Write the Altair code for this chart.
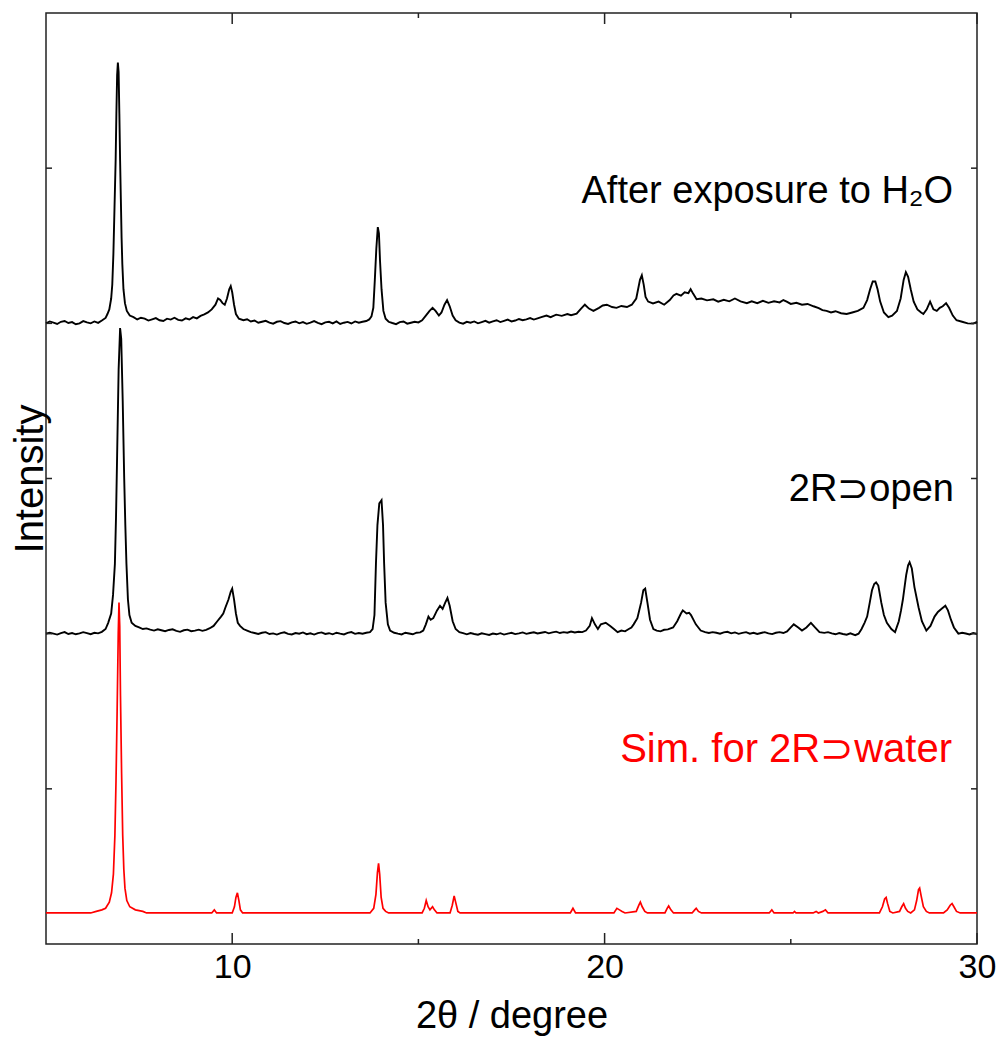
import altair as alt
import pandas as pd

FONT = "Liberation Sans"

# ---- data (2theta, intensity in offset axis units) ----
after_h2o = [
 (5.0,4.00),(5.1,4.012),(5.2,4.004),(5.3,3.996),(5.4,4.01),(5.5,4.015),(5.6,4.002),(5.7,4.008),(5.8,3.994),(5.9,4.0),
 (6.0,4.014),(6.1,4.006),(6.2,4.0),(6.3,4.012),(6.4,4.003),(6.5,4.018),(6.6,4.035),(6.65,4.06),(6.7,4.09),(6.75,4.16),
 (6.78,4.25),(6.81,4.45),(6.84,4.75),(6.87,5.05),(6.89,5.35),(6.91,5.6),(6.93,5.68),(6.95,5.62),(6.97,5.35),(6.99,5.05),
 (7.01,4.8),(7.03,4.55),(7.05,4.38),(7.08,4.22),(7.12,4.13),(7.17,4.08),(7.25,4.05),(7.35,4.04),(7.45,4.025),(7.55,4.036),
 (7.65,4.03),(7.75,4.018),(7.85,4.026),(7.95,4.034),(8.05,4.02),(8.15,4.015),(8.25,4.03),(8.35,4.024),(8.45,4.036),(8.55,4.022),
 (8.65,4.018),(8.75,4.032),(8.85,4.025),(8.95,4.04),(9.05,4.032),(9.15,4.048),(9.25,4.058),(9.35,4.07),(9.45,4.09),(9.55,4.12),
 (9.62,4.16),(9.68,4.15),(9.74,4.13),(9.8,4.12),(9.86,4.16),(9.92,4.22),(9.96,4.24),(10.0,4.2),(10.05,4.12),(10.1,4.06),
 (10.18,4.03),(10.3,4.02),(10.4,4.026),(10.5,4.012),(10.6,4.018),(10.7,4.004),(10.8,4.01),(10.9,4.016),(11.0,4.004),(11.1,3.998),
 (11.2,4.01),(11.3,4.014),(11.4,4.002),(11.5,3.996),(11.6,4.006),(11.7,4.012),(11.8,4.0),(11.9,4.008),(12.0,3.997),(12.1,4.004),
 (12.2,4.014),(12.3,4.003),(12.4,3.995),(12.5,4.006),(12.6,4.01),(12.7,4.0),(12.8,4.012),(12.9,3.996),(13.0,4.004),(13.1,4.009),
 (13.2,3.999),(13.3,4.012),(13.4,4.004),(13.5,4.01),(13.6,4.015),(13.68,4.025),(13.74,4.045),(13.79,4.1),(13.83,4.28),(13.87,4.48),
 (13.91,4.62),(13.94,4.58),(13.97,4.4),(14.01,4.22),(14.06,4.08),(14.12,4.03),(14.2,4.01),(14.3,4.002),(14.4,3.995),(14.5,4.008),
 (14.6,4.012),(14.7,3.998),(14.8,4.004),(14.9,4.01),(15.0,4.006),(15.1,4.02),(15.2,4.05),(15.3,4.08),(15.38,4.1),(15.46,4.08),
 (15.55,4.05),(15.62,4.07),(15.7,4.12),(15.77,4.15),(15.84,4.11),(15.92,4.05),(16.0,4.02),(16.1,4.005),(16.2,3.998),(16.3,4.01),
 (16.4,4.004),(16.5,4.012),(16.6,4.0),(16.7,4.008),(16.8,4.016),(16.9,4.004),(17.0,4.012),(17.1,4.02),(17.2,4.008),(17.3,4.016),
 (17.4,4.024),(17.5,4.012),(17.6,4.018),(17.7,4.028),(17.8,4.02),(17.9,4.026),(18.0,4.034),(18.1,4.024),(18.2,4.032),(18.3,4.04),
 (18.44,4.05),(18.55,4.04),(18.7,4.056),(18.85,4.048),(19.0,4.06),(19.1,4.052),(19.25,4.062),(19.35,4.09),(19.47,4.12),(19.58,4.095),
 (19.7,4.08),(19.85,4.1),(19.95,4.115),(20.06,4.12),(20.2,4.105),(20.32,4.1),(20.45,4.112),(20.6,4.105),(20.73,4.12),(20.85,4.16),
 (20.95,4.28),(21.0,4.31),(21.05,4.25),(21.1,4.17),(21.17,4.14),(21.3,4.128),(21.45,4.14),(21.6,4.12),(21.75,4.15),(21.85,4.18),
 (21.93,4.19),(22.05,4.178),(22.15,4.2),(22.25,4.195),(22.31,4.22),(22.38,4.19),(22.47,4.155),(22.6,4.16),(22.75,4.148),(22.92,4.155),
 (23.05,4.14),(23.2,4.152),(23.35,4.142),(23.5,4.16),(23.65,4.142),(23.82,4.13),(23.95,4.142),(24.1,4.13),(24.25,4.145),(24.4,4.132),
 (24.55,4.142),(24.7,4.135),(24.8,4.15),(24.89,4.14),(25.0,4.125),(25.15,4.132),(25.3,4.12),(25.45,4.125),(25.61,4.11),(25.75,4.098),
 (25.85,4.085),(25.96,4.08),(26.08,4.07),(26.2,4.078),(26.35,4.065),(26.5,4.06),(26.65,4.07),(26.8,4.08),(26.95,4.1),(27.05,4.15),
 (27.13,4.22),(27.2,4.27),(27.27,4.27),(27.33,4.22),(27.4,4.14),(27.5,4.07),(27.62,4.04),(27.72,4.05),(27.85,4.08),(27.95,4.16),
 (28.03,4.28),(28.09,4.33),(28.15,4.3),(28.22,4.22),(28.3,4.14),(28.4,4.09),(28.5,4.07),(28.56,4.06),(28.65,4.09),(28.74,4.14),
 (28.83,4.09),(28.92,4.08),(29.0,4.1),(29.08,4.11),(29.17,4.13),(29.25,4.1),(29.35,4.05),(29.45,4.02),(29.6,4.01),(29.75,4.0),
 (29.9,3.998),(30.0,4.01)]

open_2r = [
 (5.0,2.0),(5.1,2.006),(5.2,2.0),(5.3,1.994),(5.4,2.004),(5.5,2.01),(5.6,1.998),(5.7,2.004),(5.8,1.996),(5.9,2.002),
 (6.0,2.01),(6.1,2.004),(6.2,1.997),(6.3,2.006),(6.4,2.002),(6.5,2.012),(6.6,2.03),(6.67,2.07),(6.75,2.13),(6.8,2.25),
 (6.85,2.45),(6.88,2.75),(6.91,3.15),(6.95,3.7),(6.99,3.97),(7.02,3.9),(7.06,3.5),(7.1,3.0),(7.13,2.7),(7.16,2.45),
 (7.2,2.22),(7.24,2.12),(7.3,2.07),(7.4,2.05),(7.5,2.04),(7.6,2.03),(7.7,2.034),(7.8,2.026),(7.9,2.02),(8.0,2.028),
 (8.1,2.022),(8.2,2.016),(8.3,2.024),(8.4,2.028),(8.5,2.018),(8.6,2.012),(8.7,2.022),(8.8,2.026),(8.9,2.016),(9.0,2.02),
 (9.1,2.026),(9.2,2.018),(9.3,2.025),(9.4,2.035),(9.5,2.05),(9.6,2.08),(9.7,2.11),(9.76,2.13),(9.82,2.17),(9.9,2.22),
 (9.96,2.27),(10.0,2.29),(10.05,2.22),(10.1,2.13),(10.15,2.07),(10.21,2.05),(10.3,2.03),(10.4,2.02),(10.5,2.01),(10.6,2.004),
 (10.7,1.998),(10.8,2.006),(10.9,2.01),(11.0,1.998),(11.1,2.002),(11.2,1.994),(11.3,2.004),(11.4,2.009),(11.5,1.999),(11.6,1.995),
 (11.7,2.004),(11.8,2.0),(11.9,2.008),(12.0,1.997),(12.1,2.002),(12.2,1.994),(12.3,2.004),(12.4,2.008),(12.5,1.998),(12.6,2.003),
 (12.7,1.996),(12.8,2.006),(12.9,2.0),(13.0,1.995),(13.1,2.005),(13.2,2.01),(13.3,1.999),(13.4,2.004),(13.5,2.0),(13.6,2.006),
 (13.7,2.01),(13.77,2.03),(13.82,2.12),(13.86,2.45),(13.9,2.7),(13.95,2.84),(14.01,2.86),(14.05,2.7),(14.08,2.45),(14.12,2.2),
 (14.18,2.06),(14.24,2.02),(14.35,2.006),(14.45,2.0),(14.55,1.995),(14.65,2.006),(14.75,2.001),(14.85,1.996),(14.95,2.006),(15.05,2.008),
 (15.13,2.02),(15.2,2.06),(15.27,2.11),(15.33,2.09),(15.4,2.1),(15.5,2.15),(15.58,2.18),(15.65,2.16),(15.72,2.2),(15.78,2.23),
 (15.84,2.18),(15.92,2.08),(16.0,2.03),(16.1,2.01),(16.2,2.003),(16.3,1.996),(16.4,2.004),(16.5,1.998),(16.6,1.993),(16.7,2.002),
 (16.8,1.997),(16.9,1.992),(17.0,2.001),(17.1,1.996),(17.2,2.003),(17.3,1.994),(17.4,2.0),(17.5,2.006),(17.6,1.997),(17.7,2.002),
 (17.8,2.008),(17.9,1.999),(18.0,2.004),(18.1,2.009),(18.2,2.001),(18.3,2.006),(18.4,2.011),(18.5,2.002),(18.6,2.008),(18.7,2.013),
 (18.8,2.004),(18.9,2.01),(19.0,2.006),(19.1,2.014),(19.2,2.008),(19.3,2.012),(19.4,2.01),(19.5,2.02),(19.6,2.05),(19.66,2.1),
 (19.74,2.06),(19.82,2.03),(19.9,2.06),(19.96,2.065),(20.03,2.07),(20.15,2.05),(20.25,2.03),(20.35,2.01),(20.45,2.02),(20.55,2.015),
 (20.65,2.03),(20.72,2.04),(20.78,2.06),(20.88,2.1),(20.98,2.2),(21.04,2.28),(21.09,2.29),(21.15,2.2),(21.22,2.09),(21.31,2.03),
 (21.4,2.02),(21.5,2.015),(21.6,2.025),(21.7,2.028),(21.84,2.04),(21.95,2.08),(22.05,2.13),(22.1,2.15),(22.2,2.13),(22.27,2.135),
 (22.32,2.12),(22.45,2.06),(22.58,2.02),(22.7,2.01),(22.8,2.004),(22.9,2.01),(23.0,2.006),(23.1,2.0),(23.2,2.008),(23.3,2.012),
 (23.4,2.002),(23.5,2.008),(23.6,1.999),(23.7,2.005),(23.8,2.01),(23.9,2.0),(24.0,2.006),(24.1,1.998),(24.2,2.004),(24.3,2.01),
 (24.4,2.002),(24.5,1.997),(24.6,2.006),(24.7,2.01),(24.8,2.004),(24.9,2.015),(25.0,2.04),(25.08,2.06),(25.2,2.04),(25.3,2.02),
 (25.42,2.04),(25.54,2.07),(25.65,2.04),(25.77,2.01),(25.9,2.005),(26.0,2.01),(26.1,2.002),(26.2,1.996),(26.3,2.004),(26.4,1.998),
 (26.5,1.993),(26.6,2.002),(26.73,1.99),(26.82,2.0),(26.9,2.03),(26.98,2.07),(27.05,2.11),(27.12,2.2),(27.18,2.28),(27.24,2.32),
 (27.29,2.33),(27.35,2.31),(27.43,2.2),(27.5,2.12),(27.58,2.07),(27.7,2.03),(27.8,2.01),(27.9,2.08),(27.96,2.15),(28.01,2.22),
 (28.06,2.31),(28.1,2.38),(28.15,2.44),(28.19,2.46),(28.25,2.42),(28.32,2.3),(28.43,2.17),(28.52,2.08),(28.64,2.02),(28.75,2.05),
 (28.86,2.11),(28.95,2.14),(29.05,2.16),(29.15,2.18),(29.22,2.15),(29.3,2.09),(29.38,2.04),(29.5,2.0),(29.6,2.006),(29.7,2.001),
 (29.8,1.995),(29.9,2.004),(30.0,1.998)]

sim_water = [
 (5.0,0.2),(6.2,0.2),(6.35,0.21),(6.5,0.22),(6.6,0.23),(6.7,0.27),(6.76,0.33),(6.81,0.45),(6.85,0.7),(6.88,1.05),
 (6.91,1.5),(6.94,2.0),(6.96,2.2),(6.98,2.05),(7.0,1.6),(7.03,1.1),(7.06,0.7),(7.09,0.48),(7.12,0.36),(7.17,0.28),
 (7.25,0.24),(7.4,0.22),(7.6,0.21),(7.7,0.2),(9.45,0.2),(9.52,0.22),(9.58,0.2),(10.0,0.2),(10.06,0.24),(10.1,0.3),
 (10.14,0.33),(10.18,0.28),(10.22,0.22),(10.28,0.2),(13.7,0.2),(13.8,0.23),(13.86,0.32),(13.9,0.46),(13.93,0.52),(13.96,0.45),
 (14.0,0.3),(14.05,0.23),(14.12,0.21),(14.2,0.2),(15.1,0.2),(15.16,0.23),(15.21,0.28),(15.26,0.24),(15.31,0.22),(15.38,0.24),
 (15.43,0.22),(15.5,0.2),(15.85,0.2),(15.91,0.25),(15.96,0.31),(16.0,0.27),(16.06,0.21),(16.12,0.2),(19.08,0.2),(19.15,0.23),
 (19.22,0.2),(20.25,0.2),(20.33,0.23),(20.4,0.22),(20.47,0.21),(20.55,0.2),(20.85,0.21),(20.92,0.25),(20.96,0.27),(21.01,0.24),
 (21.08,0.21),(21.15,0.2),(21.62,0.2),(21.68,0.23),(21.72,0.245),(21.78,0.22),(21.85,0.2),(22.35,0.2),(22.42,0.22),(22.46,0.23),
 (22.52,0.21),(22.6,0.2),(24.42,0.2),(24.49,0.22),(24.55,0.2),(25.06,0.2),(25.1,0.21),(25.14,0.2),(25.6,0.2),(25.68,0.21),
 (25.74,0.2),(25.86,0.21),(25.93,0.22),(26.0,0.2),(27.38,0.2),(27.46,0.24),(27.52,0.29),(27.56,0.3),(27.6,0.26),(27.66,0.21),
 (27.74,0.2),(27.92,0.21),(27.98,0.24),(28.03,0.26),(28.08,0.23),(28.14,0.21),(28.22,0.2),(28.32,0.22),(28.38,0.28),(28.43,0.35),
 (28.46,0.36),(28.5,0.31),(28.56,0.24),(28.64,0.21),(28.72,0.2),(29.1,0.2),(29.2,0.22),(29.28,0.25),(29.33,0.26),(29.38,0.24),
 (29.45,0.21),(29.55,0.2),(30.0,0.2)]

black_label_texts = ["After exposure to H\u2082O", "2R\u2283open"]
black_label_theta = [29.36, 29.38]
black_label_level = [4.775, 2.855]
red_label_texts = ["Sim. for 2R\u2283water"]
red_label_theta = [29.33]
red_label_level = [1.175]

x_major_ticks = [10, 20, 30]
x_minor_ticks = [15, 25]
y_ticks = [1, 2, 3, 4, 5]

W, H = 931, 931

def series_df(points):
    return pd.DataFrame({"theta": [p[0] for p in points],
                         "v": [p[1] for p in points]})

xscale = alt.Scale(domain=[5, 30], nice=False, zero=False)
yscale = alt.Scale(domain=[0, 6], nice=False, zero=False)

x_axis = alt.Axis(title="2\u03b8 / degree", values=x_major_ticks, format="d",
                  grid=False, ticks=False, domain=False, labelFlush=False,
                  labelFont=FONT, labelFontSize=34, labelColor="#000",
                  labelBaseline="alphabetic", labelPadding=33,
                  titleFont=FONT, titleFontSize=38, titleFontWeight="normal",
                  titleColor="#000", titleBaseline="alphabetic", titleY=83)
y_axis = alt.Axis(title="Intensity", labels=False, ticks=False, domain=False,
                  grid=False, titleFont=FONT, titleFontSize=40,
                  titleFontWeight="normal", titleColor="#000",
                  titleAngle=270, titleBaseline="alphabetic",
                  titleAlign="center", titleX=-4, titleY=H / 2)

X = alt.X("theta:Q", scale=xscale, axis=x_axis)
Y = alt.Y("v:Q", scale=yscale, axis=y_axis)

def line_layer(points, color, width):
    return alt.Chart(series_df(points)).mark_line(
        color=color, strokeWidth=width, interpolate="linear"
    ).encode(x=X, y=Y)

top = line_layer(after_h2o, "#000000", 1.9)
mid = line_layer(open_2r, "#000000", 1.9)
sim = line_layer(sim_water, "#ff0000", 1.7)

def text_layer(texts, thetas, levels, color, size):
    df = pd.DataFrame({"theta": thetas, "v": levels, "text": texts})
    return alt.Chart(df).mark_text(
        align="right", baseline="alphabetic", font=FONT, fontSize=size, color=color
    ).encode(x=X, y=Y, text="text:N")

labels_black = text_layer(black_label_texts, black_label_theta, black_label_level, "#000000", 38)
labels_red = text_layer(red_label_texts, red_label_theta, red_label_level, "#ff0000", 40)

TICK = "#222222"

def xtick(vals, y0, y1):
    df = pd.DataFrame({"theta": vals})
    return alt.Chart(df).mark_rule(color=TICK, strokeWidth=1.5).encode(
        x=X, y=alt.value(y0), y2=alt.value(y1))

def ytick(x0, x1):
    df = pd.DataFrame({"v": y_ticks})
    return alt.Chart(df).mark_rule(color=TICK, strokeWidth=1.5).encode(
        y=Y, x=alt.value(x0), x2=alt.value(x1))

ticks = [
    xtick(x_major_ticks, H, H - 11), xtick(x_minor_ticks, H, H - 5),
    xtick(x_major_ticks, 0, 11), xtick(x_minor_ticks, 0, 5),
    ytick(0, 6), ytick(W - 6, W),
]

chart = alt.layer(top, mid, *ticks, sim, labels_black, labels_red).properties(
    width=W, height=H,
    autosize=alt.AutoSizeParams(type="none"),
    padding={"left": 46, "top": 13, "right": 24, "bottom": 93},
    background="white",
).configure_view(stroke="#222222", strokeWidth=1.5)

chart.save("out.html", embed_options={"renderer": "svg", "actions": False})
